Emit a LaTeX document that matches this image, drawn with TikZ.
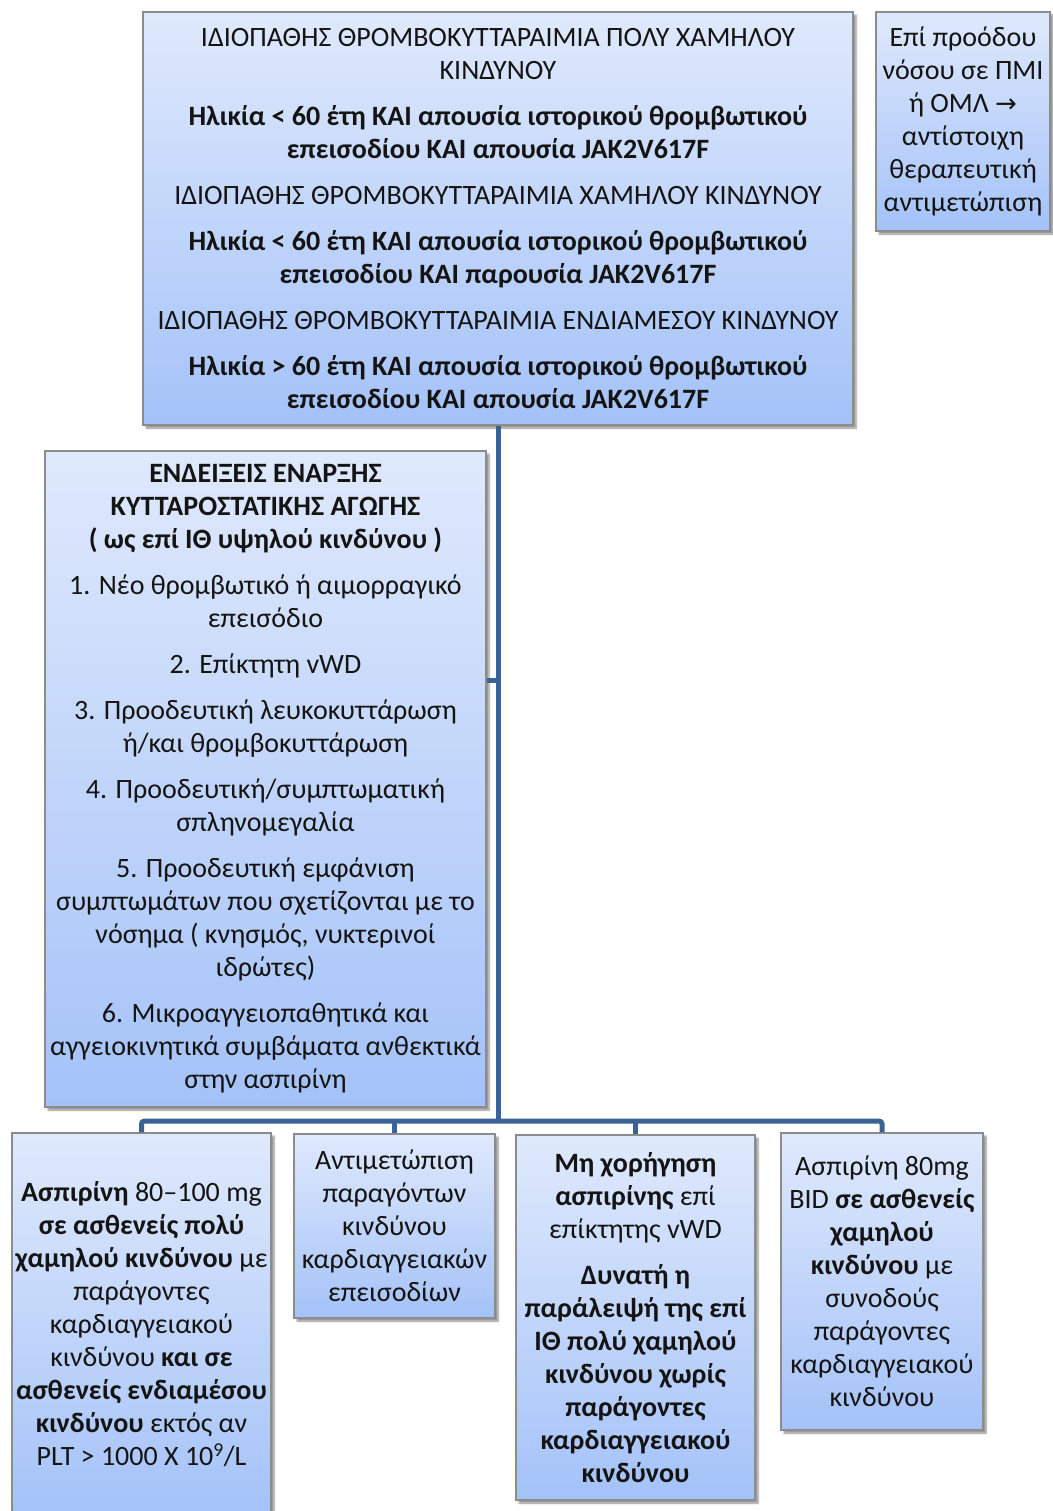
\documentclass[tikz,border=0pt]{standalone}
\usepackage{fontspec}
\setmainfont{Carlito}
\newfontfamily\symf{DejaVu Sans}
\usetikzlibrary{shadows.blur}
\definecolor{linec}{HTML}{3A6295}
\definecolor{boxtop}{HTML}{DFE9FC}
\definecolor{boxbot}{HTML}{A4C2F8}
\definecolor{boxedge}{HTML}{8C8C8C}
\definecolor{txt}{HTML}{141414}
\begin{document}
\begin{tikzpicture}[x=1pt,y=-1pt,
  box/.style={draw=boxedge, line width=1.2pt, top color=boxtop, bottom color=boxbot,
    blur shadow={shadow xshift=3pt, shadow yshift=-3pt, shadow blur steps=6, shadow opacity=45},
    align=center, text=txt, inner sep=0pt, font=\fontsize{28}{33}\selectfont},
  conn/.style={draw=linec, line width=5pt, rounded corners=3pt}]
\useasboundingbox (0,0) rectangle (1052,1511);

\coordinate (hb) at (498,1121);
\coordinate (jb) at (498,680);

\node[box, minimum width=710pt, minimum height=413pt] (top) at (498,218.5) {%
ΙΔΙΟΠΑΘΗΣ ΘΡΟΜΒΟΚΥΤΤΑΡΑΙΜΙΑ ΠΟΛΥ ΧΑΜΗΛΟΥ\\ΚΙΝΔΥΝΟΥ\\[13pt]
\textbf{Ηλικία < 60 έτη ΚΑΙ απουσία ιστορικού θρομβωτικού}\\
\textbf{επεισοδίου ΚΑΙ απουσία JAK2V617F}\\[13pt]
ΙΔΙΟΠΑΘΗΣ ΘΡΟΜΒΟΚΥΤΤΑΡΑΙΜΙΑ ΧΑΜΗΛΟΥ ΚΙΝΔΥΝΟΥ\\[13pt]
\textbf{Ηλικία < 60 έτη ΚΑΙ απουσία ιστορικού θρομβωτικού}\\
\textbf{επεισοδίου ΚΑΙ παρουσία JAK2V617F}\\[13pt]
ΙΔΙΟΠΑΘΗΣ ΘΡΟΜΒΟΚΥΤΤΑΡΑΙΜΙΑ ΕΝΔΙΑΜΕΣΟΥ ΚΙΝΔΥΝΟΥ\\[13pt]
\textbf{Ηλικία > 60 έτη ΚΑΙ απουσία ιστορικού θρομβωτικού}\\
\textbf{επεισοδίου ΚΑΙ απουσία JAK2V617F}};

\node[box, minimum width=174pt, minimum height=219pt] (side) at (963,121.5) {%
Επί προόδου\\νόσου σε ΠΜΙ\\ή ΟΜΛ {\symf\fontsize{26}{33}\selectfont →}\\αντίστοιχη\\θεραπευτική\\αντιμετώπιση};

\node[box, minimum width=441pt, minimum height=656pt] (mid) at (265.5,779) {%
\textbf{ΕΝΔΕΙΞΕΙΣ ΕΝΑΡΞΗΣ}\\
\textbf{ΚΥΤΤΑΡΟΣΤΑΤΙΚΗΣ ΑΓΩΓΗΣ}\\
\textbf{( ως επί ΙΘ υψηλού κινδύνου )}\\[13pt]
1. Νέο θρομβωτικό ή αιμορραγικό\\επεισόδιο\\[13pt]
2. Επίκτητη vWD\\[13pt]
3. Προοδευτική λευκοκυττάρωση\\ή/και θρομβοκυττάρωση\\[13pt]
4. Προοδευτική/συμπτωματική\\σπληνομεγαλία\\[13pt]
5. Προοδευτική εμφάνιση\\συμπτωμάτων που σχετίζονται με το\\νόσημα ( κνησμός, νυκτερινοί\\ιδρώτες)\\[13pt]
6. Μικροαγγειοπαθητικά και\\αγγειοκινητικά συμβάματα ανθεκτικά\\στην ασπιρίνη};

\node[box, minimum width=259pt, minimum height=382pt] (b1) at (141.5,1324) {%
\textbf{Ασπιρίνη} 80–100 mg\\
\textbf{σε ασθενείς πολύ}\\
\textbf{χαμηλού κινδύνου} με\\
παράγοντες\\
καρδιαγγειακού\\
κινδύνου \textbf{και σε}\\
\textbf{ασθενείς ενδιαμέσου}\\
\textbf{κινδύνου} εκτός αν\\
PLT > 1000 X 10\textsuperscript{9}/L};

\node[box, minimum width=201pt, minimum height=184pt] (b2) at (394.5,1226) {%
Αντιμετώπιση\\παραγόντων\\κινδύνου\\καρδιαγγειακών\\επεισοδίων};

\node[box, minimum width=239pt, minimum height=365pt] (b3) at (635.5,1317.5) {%
\textbf{Μη χορήγηση}\\
\textbf{ασπιρίνης} επί\\
επίκτητης vWD\\[13pt]
\textbf{Δυνατή η}\\
\textbf{παράλειψή της επί}\\
\textbf{ΙΘ πολύ χαμηλού}\\
\textbf{κινδύνου χωρίς}\\
\textbf{παράγοντες}\\
\textbf{καρδιαγγειακού}\\
\textbf{κινδύνου}};

\node[box, minimum width=202pt, minimum height=297pt] (b4) at (882,1281.5) {%
Ασπιρίνη 80mg\\
BID \textbf{σε ασθενείς}\\
\textbf{χαμηλού}\\
\textbf{κινδύνου} με\\
συνοδούς\\
παράγοντες\\
καρδιαγγειακού\\
κινδύνου};

\draw[conn] (top.south) -- (top.south |- hb);
\draw[conn] (jb) -- (jb -| mid.east);
\draw[conn] (b1.north) |- (b4.north |- hb) -- (b4.north);
\draw[conn] (b2.north) -- (b2.north |- hb);
\draw[conn] (b3.north) -- (b3.north |- hb);
\end{tikzpicture}
\end{document}
